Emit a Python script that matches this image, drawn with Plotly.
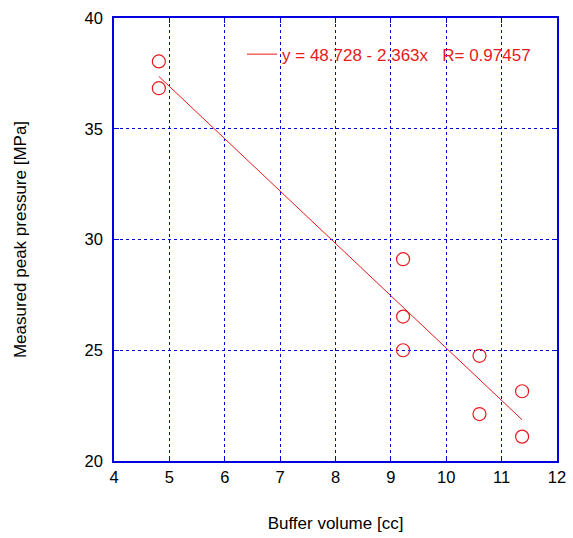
import plotly.graph_objects as go

# Data
buffer_volume = [4.81, 4.81, 9.22, 9.22, 9.22, 10.60, 10.60, 11.37, 11.37]
peak_pressure = [38.04, 36.83, 29.11, 26.52, 25.00, 24.75, 22.12, 23.15, 21.10]
fit_intercept = 48.728
fit_slope = -2.363
fit_r = 0.97457
x_ticks = [4, 5, 6, 7, 8, 9, 10, 11, 12]
y_ticks = [20, 25, 30, 35, 40]

red = "#e8191c"
blue = "#0000e0"
FONT = "Liberation Sans, Arial"

x_fit = [min(buffer_volume), max(buffer_volume)]
y_fit = [fit_intercept + fit_slope * x for x in x_fit]

fig = go.Figure()
fig.add_trace(go.Scatter(
    x=buffer_volume, y=peak_pressure, mode="markers",
    marker=dict(symbol="circle-open", size=13, color=red, line=dict(width=1.2, color=red)),
    showlegend=False, hoverinfo="x+y"))
fig.add_trace(go.Scatter(
    x=x_fit, y=y_fit, mode="lines",
    line=dict(color=red, width=1),
    name=f"y = {fit_intercept} - {abs(fit_slope)}x   R= {fit_r}",
    showlegend=True))

axis_common = dict(
    showline=True, linecolor=blue, linewidth=1.5, mirror="ticks",
    ticks="inside", ticklen=5, tickcolor=blue,
    showgrid=True, gridcolor=blue, griddash="dot", gridwidth=1,
    zeroline=False, automargin=False,
    tickfont=dict(family=FONT, size=16.5, color="black"),
)

fig.update_xaxes(range=[4, 12], tickvals=x_ticks,
                 title=dict(text="Buffer volume [cc]", standoff=33,
                            font=dict(family=FONT, size=17, color="black")),
                 **axis_common)
fig.update_yaxes(range=[20, 40], tickvals=y_ticks, ticklabelstandoff=6,
                 title=dict(text="Measured peak pressure [MPa]", standoff=54,
                            font=dict(family=FONT, size=17, color="black")),
                 **axis_common)

fig.update_layout(
    width=573, height=538,
    margin=dict(l=114, r=16, t=18, b=77),
    plot_bgcolor="white", paper_bgcolor="white",
    legend=dict(x=0.289, y=0.958, xanchor="left", yanchor="top",
                bgcolor="rgba(0,0,0,0)", borderwidth=0,
                font=dict(family=FONT, size=17, color=red),
                itemwidth=30),
)

fig.write_html("out.html", config={"displayModeBar": False},
               post_script="document.body.style.margin='0';document.body.style.overflow='hidden';")
